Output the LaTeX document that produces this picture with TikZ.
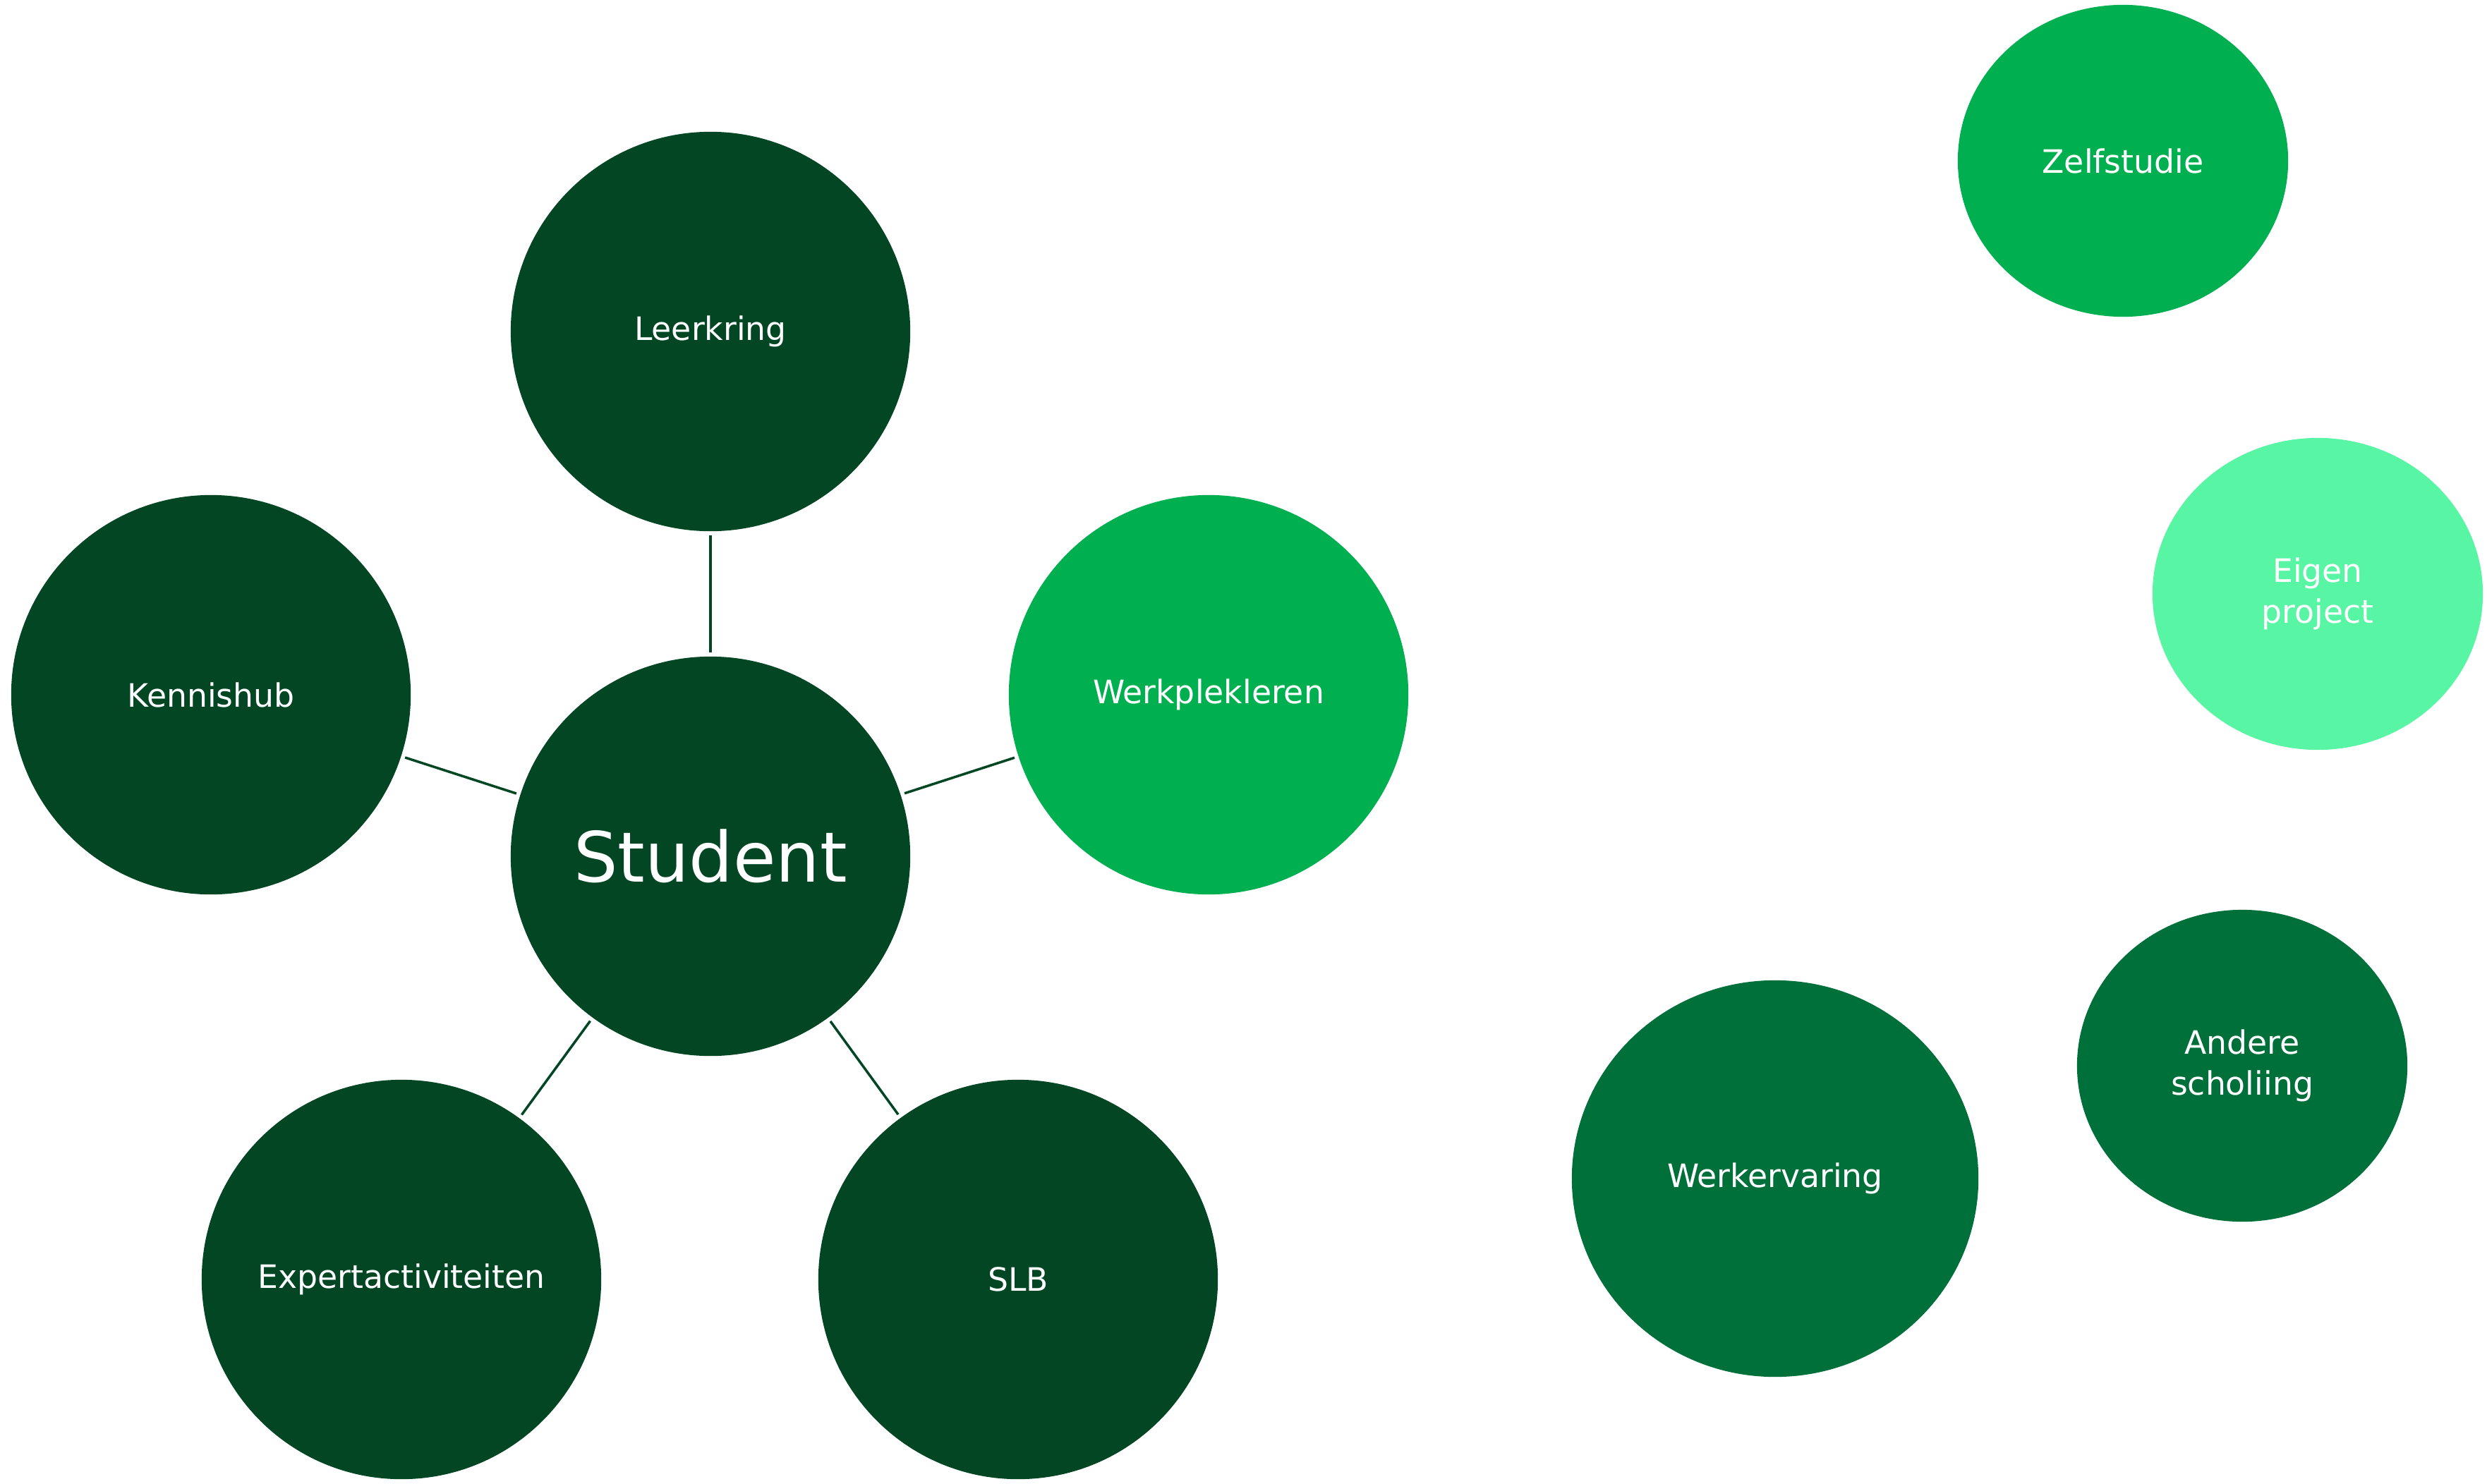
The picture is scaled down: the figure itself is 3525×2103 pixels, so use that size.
\documentclass[tikz,border=0pt]{standalone}
\usepackage{fontspec}
\setmainfont{DejaVu Sans}
\usetikzlibrary{shapes.geometric}
\definecolor{hubdark}{RGB}{2,70,36}
\definecolor{hubmid}{RGB}{0,176,80}
\definecolor{hublight}{RGB}{88,245,165}
\definecolor{hubdeep}{RGB}{0,112,58}
\begin{document}
\begin{tikzpicture}[x=0.01cm,y=-0.01cm,
  bubble/.style={circle,minimum size=5.66cm,inner sep=0pt,text=white,
    font=\fontsize{13}{16.5}\selectfont,align=center},
  blob/.style={ellipse,minimum width=4.68cm,minimum height=4.42cm,inner sep=0pt,
    text=white,font=\fontsize{13}{16.5}\selectfont,align=center},
  spoke/.style={draw=hubdark,line width=1pt,shorten <=1.5pt,shorten >=1.5pt}]
\useasboundingbox (0,0) rectangle (3525,2103);
% centre and spokes
\node[bubble,fill=hubdark,font=\fontsize{28}{34}\selectfont] (student) at (1007,1214) {Student};
\node[bubble,fill=hubdark] (leerkring) at (1007,470) {Leerkring};
\node[bubble,fill=hubdark] (kennishub) at (299,985) {Kennishub};
\node[bubble,fill=hubmid] (werkplek) at (1713,985) {Werkplekleren};
\node[bubble,fill=hubdark] (expert) at (569,1814) {Expertactiviteiten};
\node[bubble,fill=hubdark] (slb) at (1443,1814) {SLB};
\draw[spoke] (student) -- (leerkring);
\draw[spoke] (student) -- (kennishub);
\draw[spoke] (student) -- (werkplek);
\draw[spoke] (student) -- (expert);
\draw[spoke] (student) -- (slb);

% loose bubbles on the right
\node[blob,fill=hubmid] (zelfstudie) at (3009,228) {Zelfstudie};
\node[blob,fill=hublight] (eigen) at (3285,842) {Eigen\\project};
\node[blob,fill=hubdeep] (andere) at (3178,1511) {Andere\\scholiing};
\node[ellipse,minimum width=5.76cm,minimum height=5.62cm,inner sep=0pt,fill=hubdeep,
  text=white,font=\fontsize{13}{16.5}\selectfont] (werkervaring) at (2516,1671) {Werkervaring};
\end{tikzpicture}
\end{document}
